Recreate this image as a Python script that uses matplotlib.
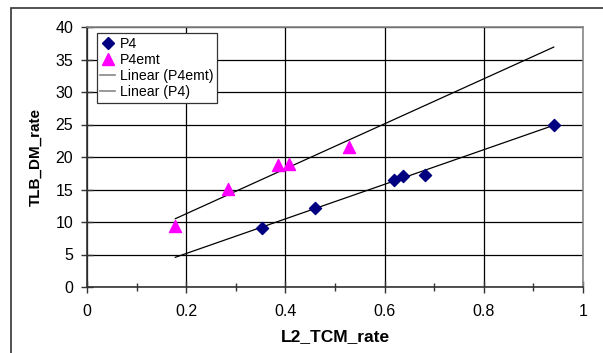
import numpy as np
import matplotlib.pyplot as plt
from matplotlib.lines import Line2D
from matplotlib.patches import Rectangle

plt.rcParams['font.family'] = ['Liberation Sans', 'DejaVu Sans']

# data
p4_x = [0.352, 0.459, 0.619, 0.637, 0.682, 0.941]
p4_y = [9.15, 12.15, 16.5, 17.1, 17.3, 25.0]
emt_x = [0.178, 0.285, 0.386, 0.408, 0.528]
emt_y = [9.35, 15.1, 18.7, 18.85, 21.5]

W, H = 603, 353
fig = plt.figure(figsize=(W / 100, H / 100), dpi=100)

# outer chart frame
fig.patches.append(Rectangle((11 / W, -0.1), 1.2, (H - 8) / H + 0.1,
                             transform=fig.transFigure, fill=False,
                             edgecolor='#333333', linewidth=1.2))

left, right, top, bottom = 87, 583, 27, 287
ax = fig.add_axes([left / W, 1 - bottom / H, (right - left) / W, (bottom - top) / H])

ax.set_xlim(0, 1)
ax.set_ylim(0, 40)
ax.set_xticks(np.arange(0, 1.01, 0.2))
ax.set_xticklabels(['0', '0.2', '0.4', '0.6', '0.8', '1'])
ax.set_xticks(np.arange(0.1, 1.0, 0.2), minor=True)
ax.set_yticks(np.arange(0, 41, 5))
ax.grid(True, which='major', color='black', linewidth=0.9)
ax.set_axisbelow(True)

for s in ['top', 'right']:
    ax.spines[s].set_color('#888888')
    ax.spines[s].set_linewidth(1.2)
for s in ['left', 'bottom']:
    ax.spines[s].set_color('#333333')
    ax.spines[s].set_linewidth(1.2)

ax.tick_params(axis='both', which='major', direction='inout', length=9,
               width=1, color='#333333', labelsize=11.5)
ax.tick_params(axis='x', which='major', pad=8)
ax.tick_params(axis='y', which='major', pad=5.5)
ax.tick_params(axis='x', which='minor', direction='inout', length=6,
               width=1, color='#333333')

# linear trendlines over the full data range
xs = np.array([min(emt_x + p4_x), max(emt_x + p4_x)])
k_e, b_e = np.polyfit(emt_x, emt_y, 1)
k_p, b_p = np.polyfit(p4_x, p4_y, 1)
ax.plot(xs, k_e * xs + b_e, color='black', linewidth=0.9, zorder=3)
ax.plot(xs, k_p * xs + b_p, color='black', linewidth=0.9, zorder=3)

ax.scatter(p4_x, p4_y, marker='D', s=38, color='#000080', zorder=4)
ax.scatter(emt_x, emt_y, marker='^', s=75, color='#ff00ff', zorder=4)

ax.set_xlabel('L2_TCM_rate', fontsize=12.5, fontweight='bold', labelpad=7)
ax.set_ylabel('TLB_DM_rate', fontsize=11, fontweight='bold', labelpad=9)

handles = [
    Line2D([], [], marker='D', color='#000080', linestyle='none', markersize=6),
    Line2D([], [], marker='^', color='#ff00ff', linestyle='none', markersize=8),
    Line2D([], [], color='#888888', linewidth=1.2),
    Line2D([], [], color='#888888', linewidth=1.2),
]
labels = ['P4', 'P4emt', 'Linear (P4emt)', 'Linear (P4)']
leg = ax.legend(handles, labels, loc='upper left', bbox_to_anchor=(0.02, 0.975),
                fontsize=10.2, frameon=True, fancybox=False, framealpha=1,
                edgecolor='#333333', handlelength=1.0, handletextpad=0.4,
                labelspacing=0.15, borderpad=0.25, borderaxespad=0)
leg.get_frame().set_linewidth(0.9)

fig.savefig('out.png', dpi=100)
